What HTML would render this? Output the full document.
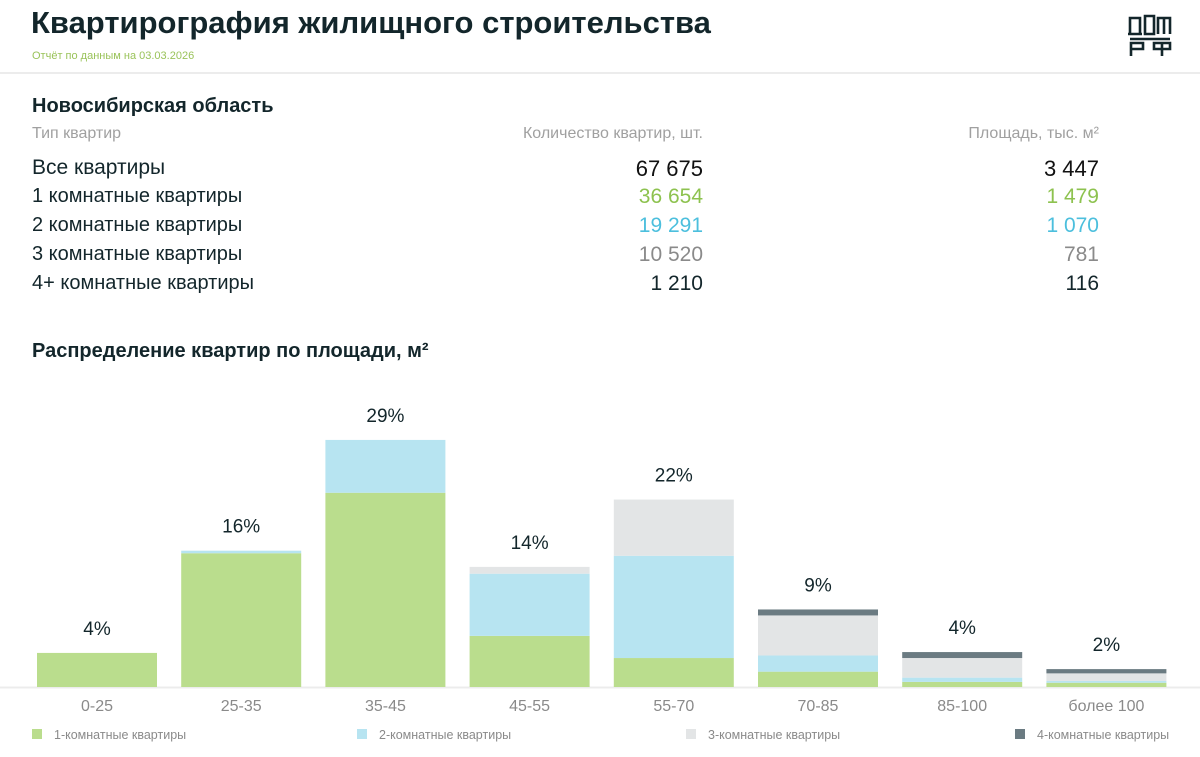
<!DOCTYPE html>
<html><head><meta charset="utf-8"><style>
body{margin:0;width:1200px;height:757px;background:#fff;font-family:"Liberation Sans",sans-serif;position:relative;overflow:hidden}
.a{position:absolute;white-space:nowrap}
.r{text-align:right}
</style></head><body>
<div class="a" style="left:31px;top:5px;font-size:31px;font-weight:bold;color:#13262b">Квартирография жилищного строительства</div>
<div class="a" style="left:32px;top:50px;font-size:11px;color:#9ac35a">Отчёт по данным на 03.03.2026</div>
<svg class="a" style="left:1127px;top:13px" width="46" height="44" viewBox="0 0 46 44"><g fill="none" stroke="#13262b" stroke-width="2.6"><path d="M3 21V5h10v16M1 21h14M18 21V3h9v18zM31 21V5h12v16M37 5v16M3 26h40M4 43V30h12v6H4M27 30h16v6H27zM35 30v13"/></g></svg>
<div class="a" style="left:0;top:72px;width:1200px;height:2px;background:#ececec"></div>
<div class="a" style="left:32px;top:95px;font-size:20px;font-weight:bold;color:#13262b">Новосибирская область</div>
<div class="a" style="left:32px;top:125px;font-size:16px;color:#a0a0a0">Тип квартир</div>
<div class="a r" style="right:497px;top:125px;font-size:16px;color:#a0a0a0">Количество квартир, шт.</div>
<div class="a r" style="right:101px;top:125px;font-size:16px;color:#a0a0a0">Площадь, тыс. м²</div>
<div id="tbl"></div>
<div class="a" style="left:32px;top:340px;font-size:20px;font-weight:bold;color:#13262b">Распределение квартир по площади, м²</div>
<svg id="chart" class="a" style="left:0;top:380px" width="1200" height="377"></svg>
<script>
const rowNames=["Все квартиры","1 комнатные квартиры","2 комнатные квартиры","3 комнатные квартиры","4+ комнатные квартиры"];
const rowCounts=["67 675","36 654","19 291","10 520","1 210"];
const rowAreas=["3 447","1 479","1 070","781","116"];
const rowColors=["#111","#8dc24f","#4cbfdd","#8a8a8a","#13262b"];
const tbl=document.getElementById('tbl');
rowNames.forEach((n,i)=>{
  const top=156+i*29, fs=i==0?21:20;
  [[n,'left:32px','row-name'],[rowCounts[i],'right:497px','row-count'],[rowAreas[i],'right:101px','row-area']].forEach((c,j)=>{
    const d=document.createElement('div');
    d.className='a';
    
    
    d.style.cssText=c[1]+';top:'+top+'px;font-size:'+(j>0?fs+1:fs)+'px;color:'+(j==0?'#13262b':rowColors[i]);
    d.textContent=c[0];tbl.appendChild(d);
  });
});
const categories=["0-25","25-35","35-45","45-55","55-70","70-85","85-100","более 100"];
const room1=[4.0,15.7,22.8,6.0,3.4,1.8,0.6,0.5];
const room2=[0,0.3,6.2,7.3,12.0,1.9,0.5,0.2];
const room3=[0,0,0,0.8,6.6,4.7,2.3,0.9];
const room4=[0,0,0,0,0,0.7,0.7,0.5];
const totalLabels=["4%","16%","29%","14%","22%","9%","4%","2%"];
const seriesNames=["1-комнатные квартиры","2-комнатные квартиры","3-комнатные квартиры","4-комнатные квартиры"];
const colors=["#badd8d","#b7e4f1","#e3e5e6","#6b7b82"];
const svg=document.getElementById('chart'),NS='http://www.w3.org/2000/svg';
const base=307,k=8.52;
const x=i=>37+i*144.2, y=v=>base-v*k;
function el(t,a){const e=document.createElementNS(NS,t);for(const q in a)e.setAttribute(q,a[q]);svg.appendChild(e);return e;}
const ax=el('line',{x1:0,x2:1200,y1:base+0.5,y2:base+0.5,stroke:'#ececec','stroke-width':2});


const series=[room1,room2,room3,room4];
categories.forEach((c,i)=>{
  let acc=0;
  series.forEach((s,j)=>{
    if(s[i]<=0)return;
    const r=el('rect',{x:x(i),width:120,y:y(acc+s[i]),height:s[i]*k,fill:colors[j]});
    
    
    acc+=s[i];
  });
  const t=el('text',{x:x(i)+60,y:y(acc)-18,'text-anchor':'middle','font-size':19,fill:'#13262b'});
  t.textContent=totalLabels[i];
  
  
  const l=el('text',{x:x(i)+60,y:base+24,'text-anchor':'middle','font-size':16,fill:'#8a8a8a'});
  l.textContent=c;
  
  
});
const legX=[32,357,686,1015];
seriesNames.forEach((n,j)=>{
  const g=el('g',{});
  
  
  const r=document.createElementNS(NS,'rect');
  r.setAttribute('x',legX[j]);r.setAttribute('y',349);r.setAttribute('width',10);r.setAttribute('height',10);r.setAttribute('fill',colors[j]);
  g.appendChild(r);
  const t=document.createElementNS(NS,'text');
  t.setAttribute('x',legX[j]+22);t.setAttribute('y',359);t.setAttribute('font-size',12.5);t.setAttribute('fill','#8a8a8a');
  t.textContent=n;g.appendChild(t);
});
</script>
</body></html>
